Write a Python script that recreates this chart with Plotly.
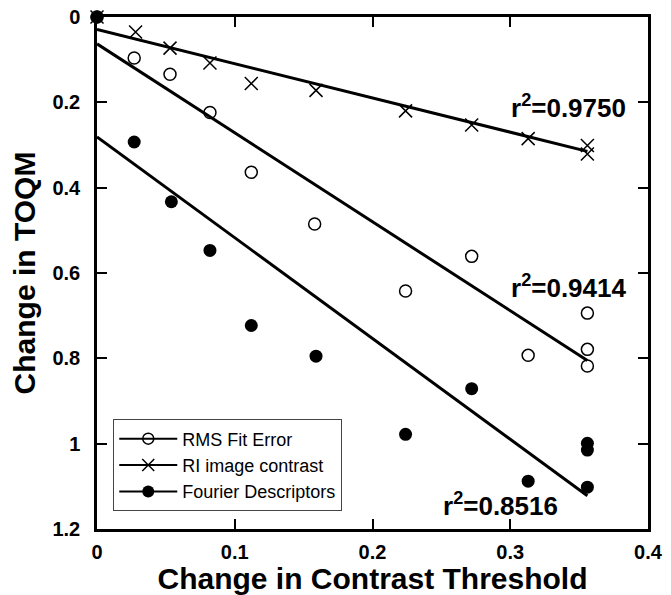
import plotly.graph_objects as go

# ---- data ----
rms_x = [0.0, 0.027, 0.053, 0.082, 0.112, 0.158, 0.224, 0.272, 0.313, 0.356, 0.356, 0.356]
rms_y = [0.0, 0.096, 0.134, 0.224, 0.364, 0.485, 0.642, 0.561, 0.793, 0.694, 0.779, 0.818]

ri_x = [0.0, 0.028, 0.053, 0.082, 0.112, 0.159, 0.224, 0.272, 0.313, 0.356, 0.356]
ri_y = [0.0, 0.035, 0.073, 0.108, 0.156, 0.172, 0.220, 0.253, 0.285, 0.301, 0.321]

fd_x = [0.0, 0.027, 0.054, 0.082, 0.112, 0.159, 0.224, 0.272, 0.313, 0.356, 0.356, 0.356]
fd_y = [0.0, 0.293, 0.433, 0.547, 0.723, 0.795, 0.978, 0.871, 1.088, 0.999, 1.015, 1.102]

# linear fit lines (endpoints)
fit_x = [0.0, 0.356]
ri_fit_y = [0.029, 0.315]
rms_fit_y = [0.063, 0.805]
fd_fit_y = [0.281, 1.122]

r2_labels = ["r<sup>2</sup>=0.9750", "r<sup>2</sup>=0.9414", "r<sup>2</sup>=0.8516"]
r2_x = [0.342, 0.342, 0.293]
r2_y = [0.21, 0.632, 1.143]

series_names = ["RMS Fit Error", "RI image contrast", "Fourier Descriptors"]

x_ticks = [0, 0.1, 0.2, 0.3, 0.4]
y_ticks = [0, 0.2, 0.4, 0.6, 0.8, 1, 1.2]

FONT = "Liberation Sans, Arial"

fig = go.Figure()

line_style = dict(color="black", width=3)

# fit lines
for fy in [ri_fit_y, rms_fit_y, fd_fit_y]:
    fig.add_trace(go.Scatter(x=fit_x, y=fy, mode="lines", line=line_style,
                             showlegend=False, hoverinfo="skip"))

# data points
fig.add_trace(go.Scatter(x=rms_x, y=rms_y, mode="markers", showlegend=False, cliponaxis=False,
                         marker=dict(symbol="circle-open", size=12, color="black", line=dict(width=1.5))))
fig.add_trace(go.Scatter(x=ri_x, y=ri_y, mode="markers", showlegend=False, cliponaxis=False,
                         marker=dict(symbol="x-thin-open", size=13, color="black", line=dict(width=1.5))))
fig.add_trace(go.Scatter(x=fd_x, y=fd_y, mode="markers", showlegend=False, cliponaxis=False,
                         marker=dict(symbol="circle", size=13, color="black")))

# legend entries
leg_markers = [
    dict(symbol="circle-open", size=11, color="black", line=dict(width=1.5)),
    dict(symbol="x-thin-open", size=12, color="black", line=dict(width=1.5)),
    dict(symbol="circle", size=12, color="black"),
]
for name, mk in zip(series_names, leg_markers):
    fig.add_trace(go.Scatter(x=[None], y=[None], mode="lines+markers", name=name,
                             line=dict(color="black", width=2), marker=mk))

for t, xx, yy in zip(r2_labels, r2_x, r2_y):
    fig.add_annotation(x=xx, y=yy, text="<b>" + t + "</b>", showarrow=False,
                       xanchor="center", yanchor="middle",
                       font=dict(family=FONT, size=26, color="black"))

axis_common = dict(
    showline=True, linecolor="black", linewidth=2.5, mirror="ticks",
    ticks="inside", ticklen=10, tickwidth=2, tickcolor="black",
    showgrid=False, zeroline=False, automargin=False, ticklabeloverflow="allow",
    tickfont=dict(family=FONT, size=20, color="black", weight="bold"),
    title_font=dict(family=FONT, size=30, color="black", weight="bold"),
)

fig.update_xaxes(range=[0, 0.4], tickvals=x_ticks, ticktext=[str(v) for v in x_ticks],
                 title_text="Change in Contrast Threshold", title_standoff=10,
                 ticklabelstandoff=3, **axis_common)
fig.update_yaxes(range=[1.2, 0], tickvals=y_ticks, ticktext=[str(v) for v in y_ticks],
                 title_text="Change in TOQM", title_standoff=12,
                 ticklabelstandoff=10, **axis_common)

# the page body adds an 8 px offset, so the figure is 8 px smaller and shifted
fig.update_layout(
    width=663, height=587,
    margin=dict(l=89, r=23, t=9, b=66),
    plot_bgcolor="white", paper_bgcolor="white",
    font=dict(family=FONT, color="black"),
    legend=dict(x=0.0295, y=0.214, xanchor="left", yanchor="top",
                bgcolor="white", bordercolor="#444", borderwidth=1,
                font=dict(family=FONT, size=18, color="black"),
                tracegroupgap=0, itemwidth=58),
)

fig.write_html("out.html")
